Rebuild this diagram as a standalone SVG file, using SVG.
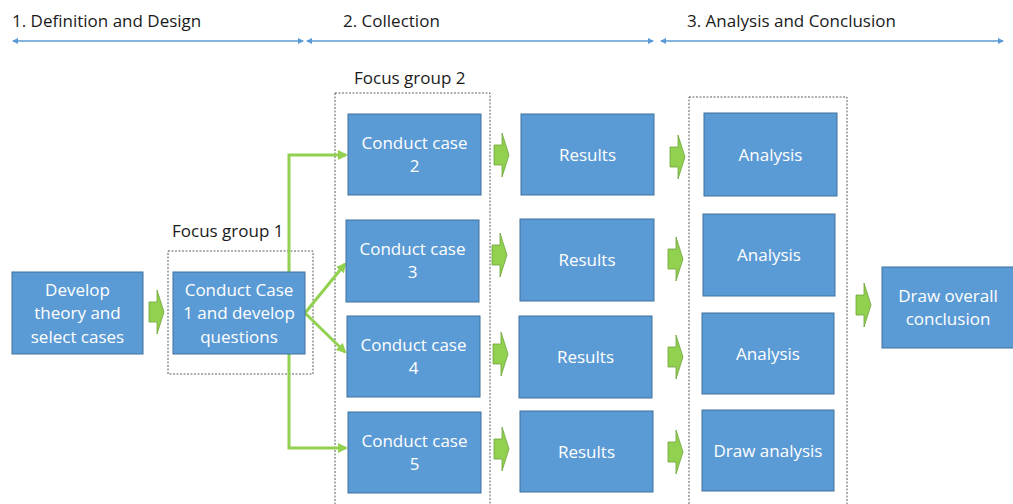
<svg xmlns="http://www.w3.org/2000/svg" width="1013" height="504" viewBox="0 0 1013 504">
<style>
.box{fill:#5B9BD5;stroke:#41719C;stroke-width:1}
.bt{font-family:"Open Sans","Liberation Sans",sans-serif;font-size:17px;fill:#fff;text-anchor:middle}
.lbl{font-family:"Open Sans","Liberation Sans",sans-serif;font-size:17px;fill:#1a1a1a}
.grp{fill:none;stroke:#333;stroke-width:0.8;stroke-dasharray:2 1.5}
.blk{fill:#92D050;stroke:#6FA33A;stroke-width:0.8}
.gl{fill:none;stroke:#92D050;stroke-width:3}
.tl{stroke:#5B9BD5;stroke-width:1.5;fill:none}
</style>
<defs>
<marker id="ga" markerWidth="10" markerHeight="10" refX="8" refY="5" orient="auto" markerUnits="userSpaceOnUse" viewBox="0 0 10 10">
<path d="M0,0 L10,5 L0,10 Z" fill="#92D050"/>
</marker>
<marker id="ba" markerWidth="6" markerHeight="6" refX="5" refY="3" orient="auto-start-reverse" markerUnits="userSpaceOnUse" viewBox="0 0 6 6">
<path d="M0,0 L6,3 L0,6 Z" fill="#5B9BD5"/>
</marker>
<path id="blk" d="M0,-10 L8,-10 L8,-22 L15,0 L8,22 L8,10 L0,10 Z"/>
</defs>

<g id="phases">
<text class="lbl" x="12" y="27">1. Definition and Design</text>
<text class="lbl" x="343" y="27">2. Collection</text>
<text class="lbl" x="687" y="27">3. Analysis and Conclusion</text>
<line class="tl" x1="13" y1="41" x2="303" y2="41" marker-start="url(#ba)" marker-end="url(#ba)"/>
<line class="tl" x1="307" y1="41" x2="653" y2="41" marker-start="url(#ba)" marker-end="url(#ba)"/>
<line class="tl" x1="661" y1="41" x2="1003" y2="41" marker-start="url(#ba)" marker-end="url(#ba)"/>
</g>

<g id="focus-group-1">
<rect class="grp" x="168" y="251" width="145" height="123"/>
<text class="lbl" x="172" y="237">Focus group 1</text>
</g>
<g id="focus-group-2">
<rect class="grp" x="335" y="93" width="155" height="420"/>
<text class="lbl" x="354" y="84">Focus group 2</text>
</g>
<g id="analysis-group">
<rect class="grp" x="689" y="97" width="158" height="420"/>
</g>

<g id="connectors">
<use href="#blk" class="blk" x="149" y="312"/>
<use href="#blk" class="blk" x="494" y="155"/>
<use href="#blk" class="blk" x="492" y="255"/>
<use href="#blk" class="blk" x="493" y="354"/>
<use href="#blk" class="blk" x="494" y="449"/>
<use href="#blk" class="blk" x="670" y="157"/>
<use href="#blk" class="blk" x="668" y="259"/>
<use href="#blk" class="blk" x="668" y="357"/>
<use href="#blk" class="blk" x="668" y="452"/>
<use href="#blk" class="blk" x="856" y="305"/>
<polyline class="gl" points="289,272 289,155 346,155" marker-end="url(#ga)"/>
<polyline class="gl" points="289,354 289,448 346,448" marker-end="url(#ga)"/>
<line class="gl" x1="305" y1="313" x2="345" y2="264" marker-end="url(#ga)"/>
<line class="gl" x1="305" y1="313" x2="345" y2="352" marker-end="url(#ga)"/>
</g>

<g id="develop">
<rect class="box" x="12" y="272" width="131" height="82"/>
<text class="bt" x="77.5" y="296">Develop</text>
<text class="bt" x="77.5" y="319">theory and</text>
<text class="bt" x="77.5" y="343">select cases</text>
</g>
<g id="case1">
<rect class="box" x="173" y="272" width="132" height="82"/>
<text class="bt" x="239" y="296">Conduct Case</text>
<text class="bt" x="239" y="319">1 and develop</text>
<text class="bt" x="239" y="343">questions</text>
</g>
<g id="case2">
<rect class="box" x="348" y="114" width="133" height="81"/>
<text class="bt" x="414.5" y="149">Conduct case</text>
<text class="bt" x="414.5" y="172">2</text>
</g>
<g id="case3">
<rect class="box" x="346" y="220" width="133" height="82"/>
<text class="bt" x="412.5" y="255">Conduct case</text>
<text class="bt" x="412.5" y="278">3</text>
</g>
<g id="case4">
<rect class="box" x="347" y="316" width="133" height="81"/>
<text class="bt" x="413.5" y="351">Conduct case</text>
<text class="bt" x="413.5" y="374">4</text>
</g>
<g id="case5">
<rect class="box" x="348" y="412" width="133" height="81"/>
<text class="bt" x="414.5" y="447">Conduct case</text>
<text class="bt" x="414.5" y="470">5</text>
</g>

<g id="results1">
<rect class="box" x="521" y="114" width="133" height="81"/>
<text class="bt" x="587.5" y="161">Results</text>
</g>
<g id="results2">
<rect class="box" x="520" y="219" width="134" height="82"/>
<text class="bt" x="587" y="266">Results</text>
</g>
<g id="results3">
<rect class="box" x="519" y="316" width="133" height="82"/>
<text class="bt" x="585.5" y="363">Results</text>
</g>
<g id="results4">
<rect class="box" x="520" y="411" width="133" height="81"/>
<text class="bt" x="586.5" y="458">Results</text>
</g>

<g id="analysis1">
<rect class="box" x="704" y="113" width="133" height="83"/>
<text class="bt" x="770.5" y="161">Analysis</text>
</g>
<g id="analysis2">
<rect class="box" x="703" y="214" width="132" height="82"/>
<text class="bt" x="769" y="261">Analysis</text>
</g>
<g id="analysis3">
<rect class="box" x="702" y="313" width="132" height="81"/>
<text class="bt" x="768" y="360">Analysis</text>
</g>
<g id="analysis4">
<rect class="box" x="702" y="410" width="132" height="81"/>
<text class="bt" x="768" y="457">Draw analysis</text>
</g>

<g id="conclusion">
<rect class="box" x="882" y="267" width="132" height="81"/>
<text class="bt" x="948" y="302">Draw overall</text>
<text class="bt" x="948" y="325">conclusion</text>
</g>
</svg>
